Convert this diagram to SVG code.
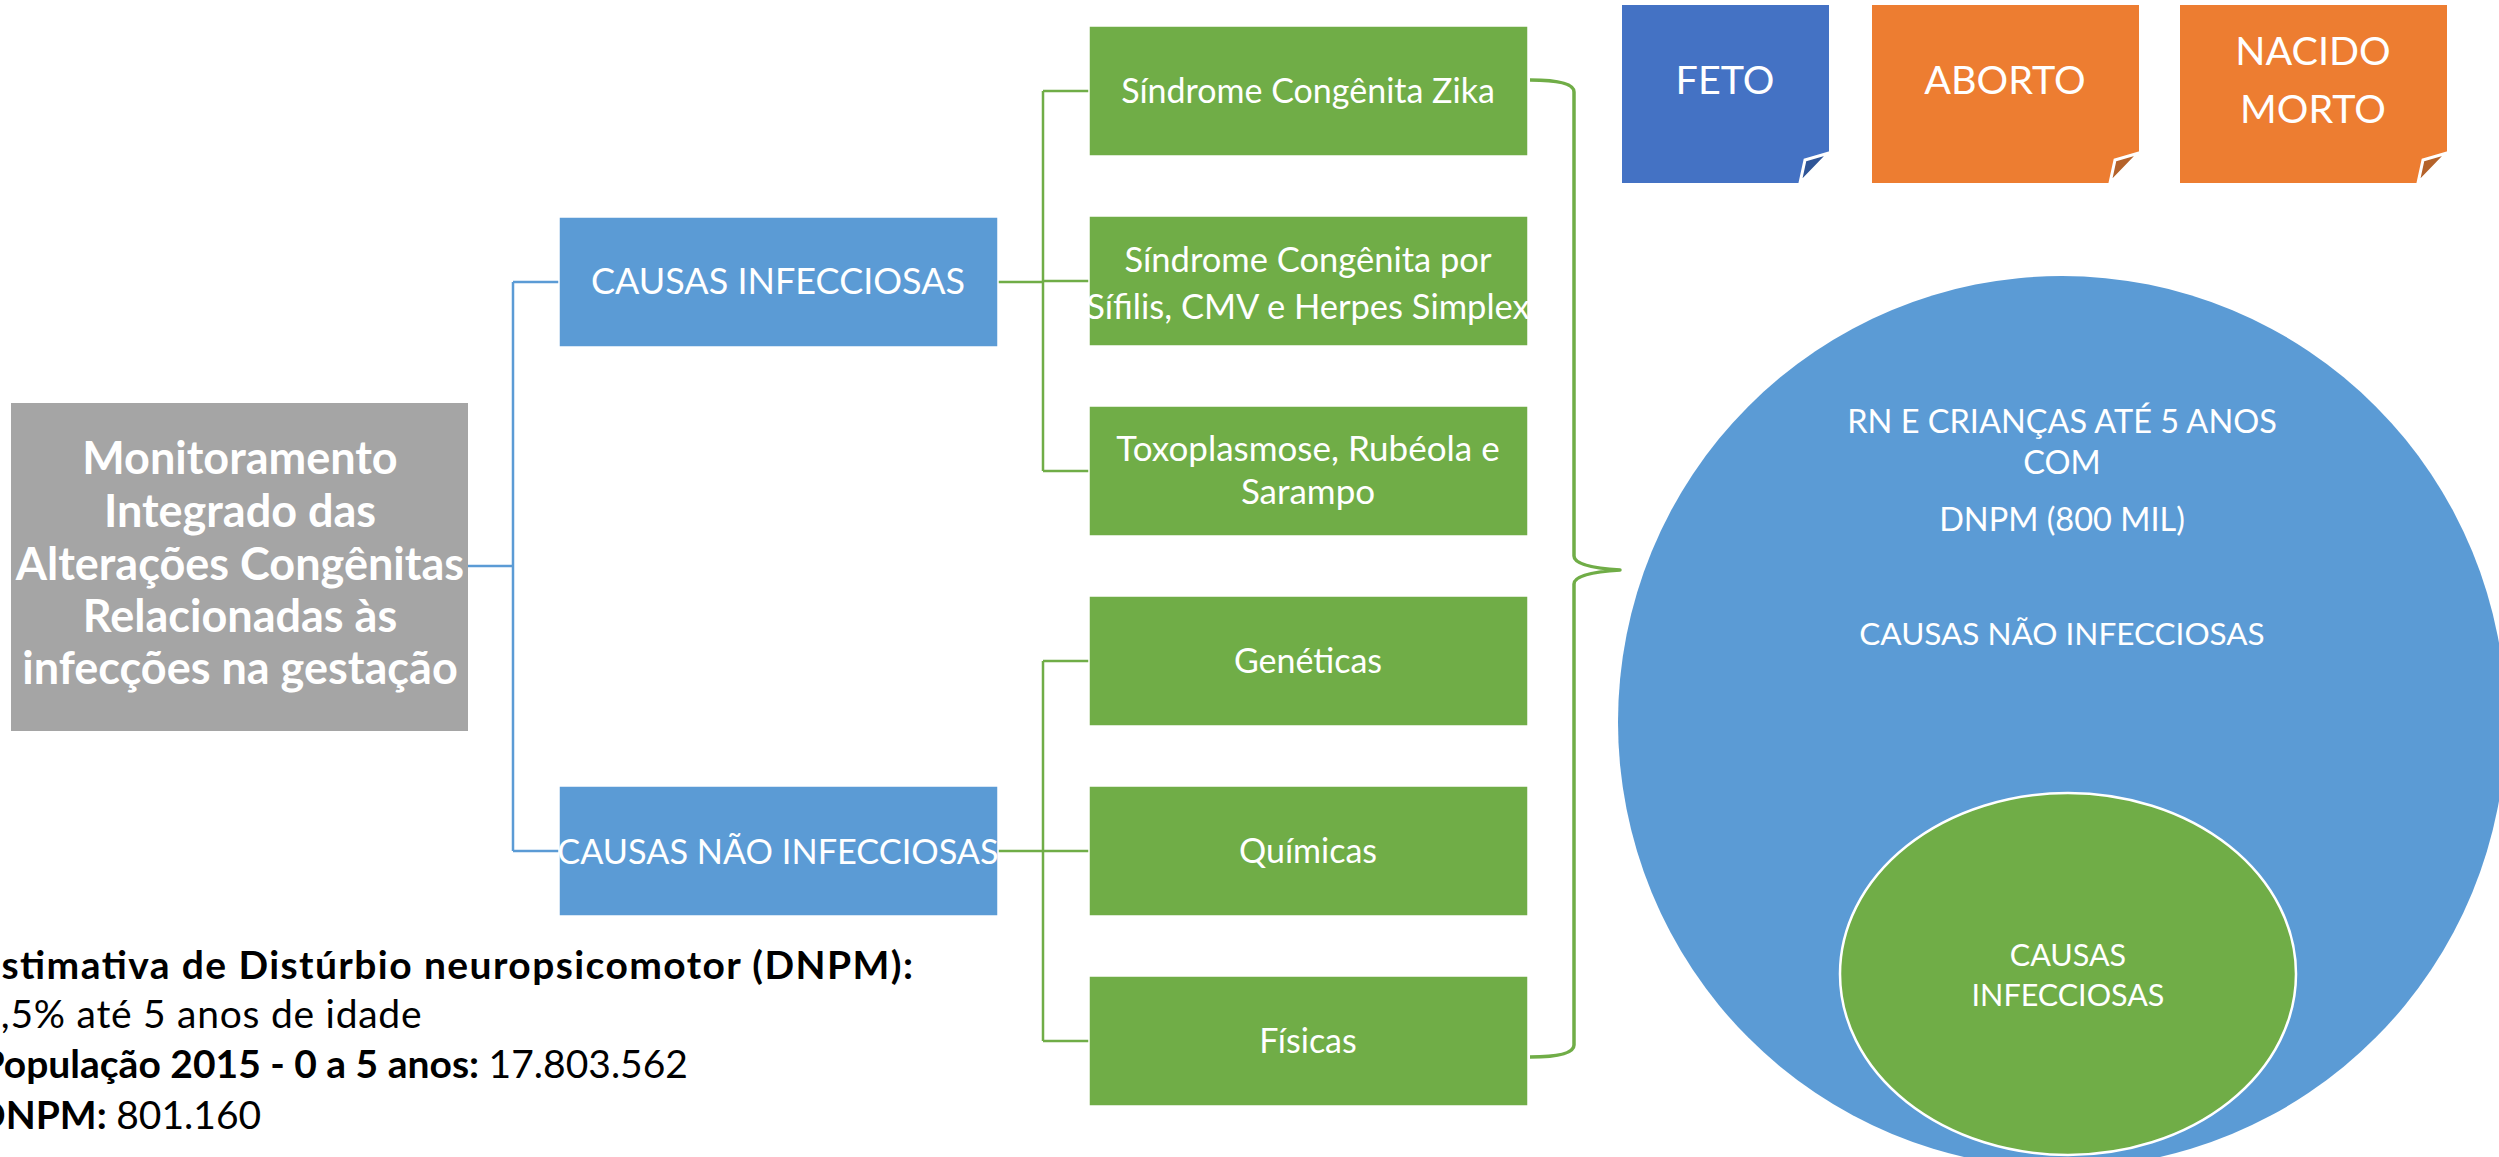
<svg xmlns="http://www.w3.org/2000/svg" width="2499" height="1157" viewBox="0 0 2499 1157">
<style>
text{font-family:Lato,"Open Sans",sans-serif;fill:#fff}
.gray{fill:#a5a5a5}
.blue{fill:#5b9bd5;stroke:#fff;stroke-width:1.5}
.green{fill:#70ad47;stroke:#fff;stroke-width:1.5}
.bl{fill:none;stroke:#5b9bd5;stroke-width:2.5}
.gl{fill:none;stroke:#70ad47;stroke-width:2.5}
.brace{fill:none;stroke:#70ad47;stroke-width:3.5;stroke-linejoin:round}
.t1{font-size:45px;font-weight:bold;text-anchor:middle}
.t2{font-size:36px;text-anchor:middle}
.t2b{font-size:34.3px;text-anchor:middle}
.t3{font-size:34px;text-anchor:middle}
.t3s{font-size:34.5px;text-anchor:middle}
.t3t{font-size:35px;text-anchor:middle}
.t4{font-size:39.5px;text-anchor:middle}
.t5{font-size:32.5px;text-anchor:middle}
.t5b{font-size:31.5px;text-anchor:middle}
.t6{font-size:30.5px;text-anchor:middle}
.note{font-size:39px;fill:#000}
.b{font-weight:bold}
.fold{stroke:#fff;stroke-width:3;stroke-linejoin:miter}
</style>

<g id="connectors">
<path class="bl" d="M468,566H513M513,282V851M513,282H559M513,851H559"/>
<path class="gl" d="M998,282H1043M1043,91V471M1043,91H1089M1043,281H1089M1043,471H1089"/>
<path class="gl" d="M998,851H1043M1043,661V1041M1043,661H1089M1043,851H1089M1043,1041H1089"/>
<path class="brace" d="M1530,80Q1574,80 1574,92L1574,556Q1574,567 1620,570Q1574,573 1574,584L1574,1045Q1574,1057 1530,1057"/>
</g>

<g id="root">
<rect class="gray" x="11" y="403" width="457" height="328"/>
<text class="t1" x="240" y="474">Monitoramento</text>
<text class="t1" x="240" y="527">Integrado das</text>
<text class="t1" x="240" y="580">Alterações Congênitas</text>
<text class="t1" x="240" y="632">Relacionadas às</text>
<text class="t1" x="240" y="684">infecções na gestação</text>
</g>

<g id="causas-infecciosas">
<rect class="blue" x="559" y="217" width="439" height="130"/>
<text class="t2" x="778" y="294">CAUSAS INFECCIOSAS</text>
</g>
<g id="causas-nao-infecciosas">
<rect class="blue" x="559" y="786" width="439" height="130"/>
<text class="t2b" x="778" y="864">CAUSAS NÃO INFECCIOSAS</text>
</g>

<g id="zika">
<rect class="green" x="1089" y="26" width="439" height="130"/>
<text class="t3" x="1308" y="103">Síndrome Congênita Zika</text>
</g>
<g id="sifilis">
<rect class="green" x="1089" y="216" width="439" height="130"/>
<text class="t3s" x="1308" y="272">Síndrome Congênita por</text>
<text class="t3s" x="1308" y="319">Sífilis, CMV e Herpes Simplex</text>
</g>
<g id="toxoplasmose">
<rect class="green" x="1089" y="406" width="439" height="130"/>
<text class="t3t" x="1308" y="461">Toxoplasmose, Rubéola e</text>
<text class="t3t" x="1308" y="504">Sarampo</text>
</g>
<g id="geneticas">
<rect class="green" x="1089" y="596" width="439" height="130"/>
<text class="t3" x="1308" y="673">Genéticas</text>
</g>
<g id="quimicas">
<rect class="green" x="1089" y="786" width="439" height="130"/>
<text class="t3" x="1308" y="863">Químicas</text>
</g>
<g id="fisicas">
<rect class="green" x="1089" y="976" width="439" height="130"/>
<text class="t3" x="1308" y="1053">Físicas</text>
</g>

<g id="feto">
<polygon fill="#4472c4" points="1622,5 1829,5 1829,153 1800,183 1622,183"/>
<polygon class="fold" fill="#2f5597" points="1829,153 1805,160 1800,183"/>
<text class="t4" x="1725" y="94">FETO</text>
</g>
<g id="aborto">
<polygon fill="#ed7d31" points="1872,5 2139,5 2139,153 2110,183 1872,183"/>
<polygon class="fold" fill="#b4622a" points="2139,153 2115,160 2110,183"/>
<text class="t4" x="2005" y="94">ABORTO</text>
</g>
<g id="nacido-morto">
<polygon fill="#ed7d31" points="2180,5 2447,5 2447,153 2418,183 2180,183"/>
<polygon class="fold" fill="#b4622a" points="2447,153 2423,160 2418,183"/>
<text class="t4" x="2313" y="65">NACIDO</text>
<text class="t4" x="2313" y="123">MORTO</text>
</g>

<g id="rn-dnpm">
<ellipse cx="2062" cy="722" rx="444" ry="446" fill="#5b9bd5"/>
<text class="t5" x="2062" y="433">RN E CRIANÇAS ATÉ 5 ANOS</text>
<text class="t5" x="2062" y="474">COM</text>
<text class="t5" x="2062" y="531">DNPM (800 MIL)</text>
<text class="t5b" x="2062" y="645">CAUSAS NÃO INFECCIOSAS</text>
</g>
<g id="causas-infecciosas-circulo">
<ellipse cx="2068" cy="974" rx="228" ry="181" fill="#70ad47" stroke="#fff" stroke-width="2.5"/>
<text class="t6" x="2068" y="966">CAUSAS</text>
<text class="t6" x="2068" y="1006">INFECCIOSAS</text>
</g>

<g id="estimativa">
<text class="note b" x="-22" y="979" textLength="935" lengthAdjust="spacing">Estimativa de Distúrbio neuropsicomotor (DNPM):</text>
<text class="note" x="-22.5" y="1028" textLength="444" lengthAdjust="spacing">4,5% até 5 anos de idade</text>
<text class="note" x="-19.5" y="1078"><tspan class="b">População 2015 - 0 a 5 anos: </tspan>17.803.562</text>
<text class="note" x="-24" y="1129"><tspan class="b">DNPM: </tspan>801.160</text>
</g>
</svg>
